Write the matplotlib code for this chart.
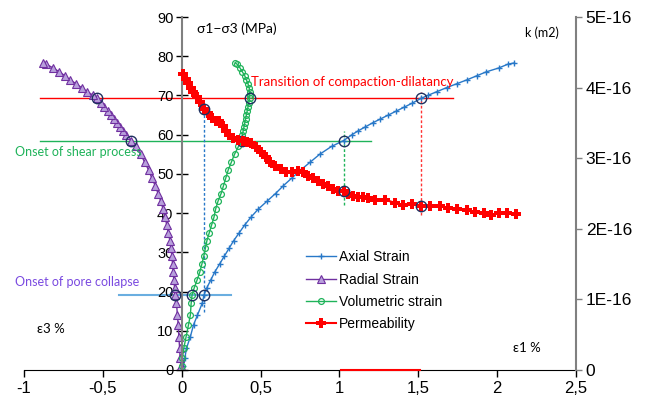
import matplotlib
matplotlib.use('Agg')
import matplotlib.pyplot as plt

plt.rcParams['font.family'] = ['Liberation Sans', 'DejaVu Sans']

# deviatoric stress levels (MPa) shared by the three strain curves
stress = [1, 3, 5.5, 8.5, 11.5, 14, 17, 19.2, 21, 23, 25, 27, 29, 31, 33, 35, 37, 39,
          41, 43, 45, 47, 49, 51, 53, 55, 57, 58.5, 60, 61, 62, 63, 64, 65, 66, 67, 68,
          69.3, 70, 71, 72, 73, 74, 75, 76, 77, 78, 78.3]
axial = [0.01, 0.02, 0.03, 0.055, 0.075, 0.10, 0.13, 0.142, 0.16, 0.185, 0.21, 0.24, 0.27,
         0.30, 0.33, 0.365, 0.40, 0.44, 0.485, 0.54, 0.595, 0.645, 0.70, 0.755, 0.815, 0.875,
         0.95, 1.027, 1.08, 1.12, 1.165, 1.21, 1.26, 1.31, 1.36, 1.41, 1.46, 1.52, 1.56, 1.62,
         1.68, 1.745, 1.81, 1.87, 1.93, 2.01, 2.07, 2.11]
radial = [-0.005, -0.01, -0.013, -0.018, -0.022, -0.027, -0.033, -0.04, -0.045, -0.05, -0.054,
          -0.058, -0.062, -0.068, -0.075, -0.085, -0.095, -0.105, -0.118, -0.132, -0.15, -0.168,
          -0.19, -0.21, -0.235, -0.26, -0.29, -0.32, -0.35, -0.37, -0.39, -0.41, -0.43, -0.45,
          -0.47, -0.49, -0.51, -0.54, -0.56, -0.60, -0.635, -0.67, -0.71, -0.74, -0.775, -0.815,
          -0.86, -0.88]
volumetric = [0.0, 0.005, 0.013, 0.028, 0.043, 0.055, 0.06, 0.066, 0.08, 0.098, 0.115, 0.128,
              0.14, 0.15, 0.16, 0.175, 0.19, 0.205, 0.215, 0.23, 0.25, 0.265, 0.28, 0.295, 0.315,
              0.335, 0.36, 0.38, 0.385, 0.39, 0.395, 0.40, 0.405, 0.41, 0.415, 0.42, 0.425, 0.43,
              0.432, 0.43, 0.428, 0.42, 0.41, 0.40, 0.385, 0.37, 0.35, 0.34]

# permeability (1E-16 m2) against axial strain
perm_strain = [0.011, 0.025, 0.04, 0.057, 0.074, 0.096, 0.117, 0.142, 0.168, 0.189, 0.217, 0.238,
               0.259, 0.28, 0.30, 0.323, 0.355, 0.387, 0.414, 0.44, 0.47, 0.503, 0.535, 0.563,
               0.592, 0.63, 0.662, 0.70, 0.737, 0.769, 0.80, 0.832, 0.864, 0.896, 0.928, 0.96,
               0.99, 1.027, 1.055, 1.087, 1.119, 1.151, 1.18, 1.225, 1.29, 1.35, 1.405, 1.46,
               1.52, 1.575, 1.64, 1.69, 1.745, 1.81, 1.86, 1.915, 1.96, 2.01, 2.06, 2.12]
perm_k = [4.19, 4.12, 4.06, 4.00, 3.94, 3.87, 3.80, 3.70, 3.64, 3.57, 3.53, 3.52, 3.45, 3.39,
          3.33, 3.28, 3.26, 3.25, 3.23, 3.21, 3.16, 3.09, 3.02, 2.95, 2.89, 2.85, 2.81, 2.81,
          2.82, 2.80, 2.75, 2.72, 2.68, 2.64, 2.60, 2.56, 2.54, 2.53, 2.49, 2.47, 2.45, 2.45,
          2.43, 2.41, 2.41, 2.37, 2.34, 2.35, 2.33, 2.33, 2.32, 2.29, 2.28, 2.26, 2.24, 2.23,
          2.20, 2.22, 2.22, 2.21]

# characteristic points
pore_stress = 19.2
shear_stress = 58.5
dilat_stress = 69.3
pore_x = [-0.04, 0.066, 0.142]
shear_x = [-0.32, 0.38, 1.027]
dilat_x = [-0.54, 0.43, 1.52]
perm_mark_x = [0.142, 1.027, 1.52]
perm_mark_k = [3.70, 2.53, 2.33]

right_ticks = [0, 1, 2, 3, 4, 5]
right_labels = ['0', '1E-16', '2E-16', '3E-16', '4E-16', '5E-16']

c_blue = '#2878c8'
c_purple = '#7030a0'
c_green = '#1fb35a'
c_red = '#ff0000'
c_ring = '#1f3060'

fig = plt.figure(figsize=(6.5, 4.03), dpi=100)
ax = fig.add_axes([0.0369, 0.0819, 0.8492, 0.8759])
ax2 = ax.twinx()

l1, = ax.plot(axial, stress, color=c_blue, lw=1, marker='+', ms=5, mew=1, label='Axial Strain')
l2, = ax.plot(radial, stress, color=c_purple, lw=1, marker='^', ms=5.5, mfc='#b8a0dc',
              mec=c_purple, mew=0.8, label='Radial Strain')
l3, = ax.plot(volumetric, stress, color=c_green, lw=1, marker='o', ms=4.2, mfc='none',
              mec=c_green, mew=0.9, label='Volumetric strain')
l4, = ax2.plot(perm_strain, perm_k, color=c_red, lw=1.5, marker='P', ms=6.5, mew=0,
               label='Permeability')

# threshold lines
ax.plot([-0.9, 1.72], [dilat_stress, dilat_stress], color=c_red, lw=1, zorder=1)
ax.plot([-0.9, 1.2], [shear_stress, shear_stress], color=c_green, lw=1, zorder=1)
ax.plot([-0.40, 0.31], [pore_stress, pore_stress], color='#6aaee0', lw=1.5, zorder=1)
ax.plot([0.142, 0.142], [14.8, 66.6], color=c_blue, lw=1, ls=(0, (2, 1.5)), zorder=1)
ax.plot([1.027, 1.027], [42, 61], color=c_green, lw=1, ls=(0, (2, 1.5)), zorder=1)
ax.plot([1.52, 1.52], [39.5, 71], color=c_red, lw=1, ls=(0, (2, 1.5)), alpha=0.8, zorder=1)
ax.plot([1.01, 1.51], [0, 0], color=c_red, lw=1.5, zorder=5, clip_on=False)

ring = dict(ls='none', marker='o', ms=7.5, mfc='none', mec=c_ring, mew=1, zorder=6)
ax.plot(pore_x, [pore_stress] * 3, **ring)
ax.plot(shear_x, [shear_stress] * 3, **ring)
ax.plot(dilat_x, [dilat_stress] * 3, **ring)
ax2.plot(perm_mark_x, perm_mark_k, **ring)

ax.set_xlim(-1, 2.5)
ax.set_ylim(0, 90)
ax2.set_ylim(0, 5)

ax.spines['left'].set_position(('data', 0))
ax.spines['left'].set_color('#808080')
ax.spines['left'].set_linewidth(1.5)
ax.spines['right'].set_visible(False)
ax.spines['top'].set_visible(False)
ax.spines['bottom'].set_color('black')
for s in ['left', 'top', 'bottom']:
    ax2.spines[s].set_visible(False)
ax2.spines['right'].set_color('#808080')
ax2.spines['right'].set_linewidth(1.5)

ax.set_xticks([-1, -0.5, 0, 0.5, 1, 1.5, 2, 2.5])
ax.set_xticklabels(['-1', '-0,5', '0', '0,5', '1', '1,5', '2', '2,5'])
ax.set_yticks(range(0, 91, 10))
ax.tick_params(axis='x', direction='out', length=5, width=1, labelsize=12, pad=3)
ax.tick_params(axis='y', direction='inout', length=8, width=1, labelsize=10.5, pad=2)
ax2.set_yticks(right_ticks)
ax2.set_yticklabels(right_labels)
ax2.tick_params(axis='y', direction='out', length=4, width=1, color='#808080',
                labelsize=12.5, pad=3)

tf = ['Lato', 'DejaVu Sans']
ax.text(0.1, 86, 'σ1−σ3 (MPa)', fontsize=10, family=tf)
ax.text(2.18, 85, 'k (m2)', fontsize=9, family=tf)
ax.text(0.44, 72.5, 'Transition of compaction-dilatancy', fontsize=9.5, color=c_red, family=tf)
ax.text(-1.06, 54.5, 'Onset of shear process', fontsize=9, color=c_green, family=tf)
ax.text(-1.06, 21.5, 'Onset of pore collapse', fontsize=9, color='#7a4ae0', family=tf)
ax.text(-0.92, 9.5, 'ε3 %', fontsize=9.5, family=tf)
ax.text(2.1, 4.5, 'ε1 %', fontsize=9.5, family=tf)

ax2.legend(handles=[l1, l2, l3, l4], loc='upper left', bbox_to_anchor=(0.5, 0.355),
           frameon=False, fontsize=10, handlelength=2.2, handletextpad=0.2,
           labelspacing=0.6, borderaxespad=0)

fig.savefig('out.png', dpi=100)
